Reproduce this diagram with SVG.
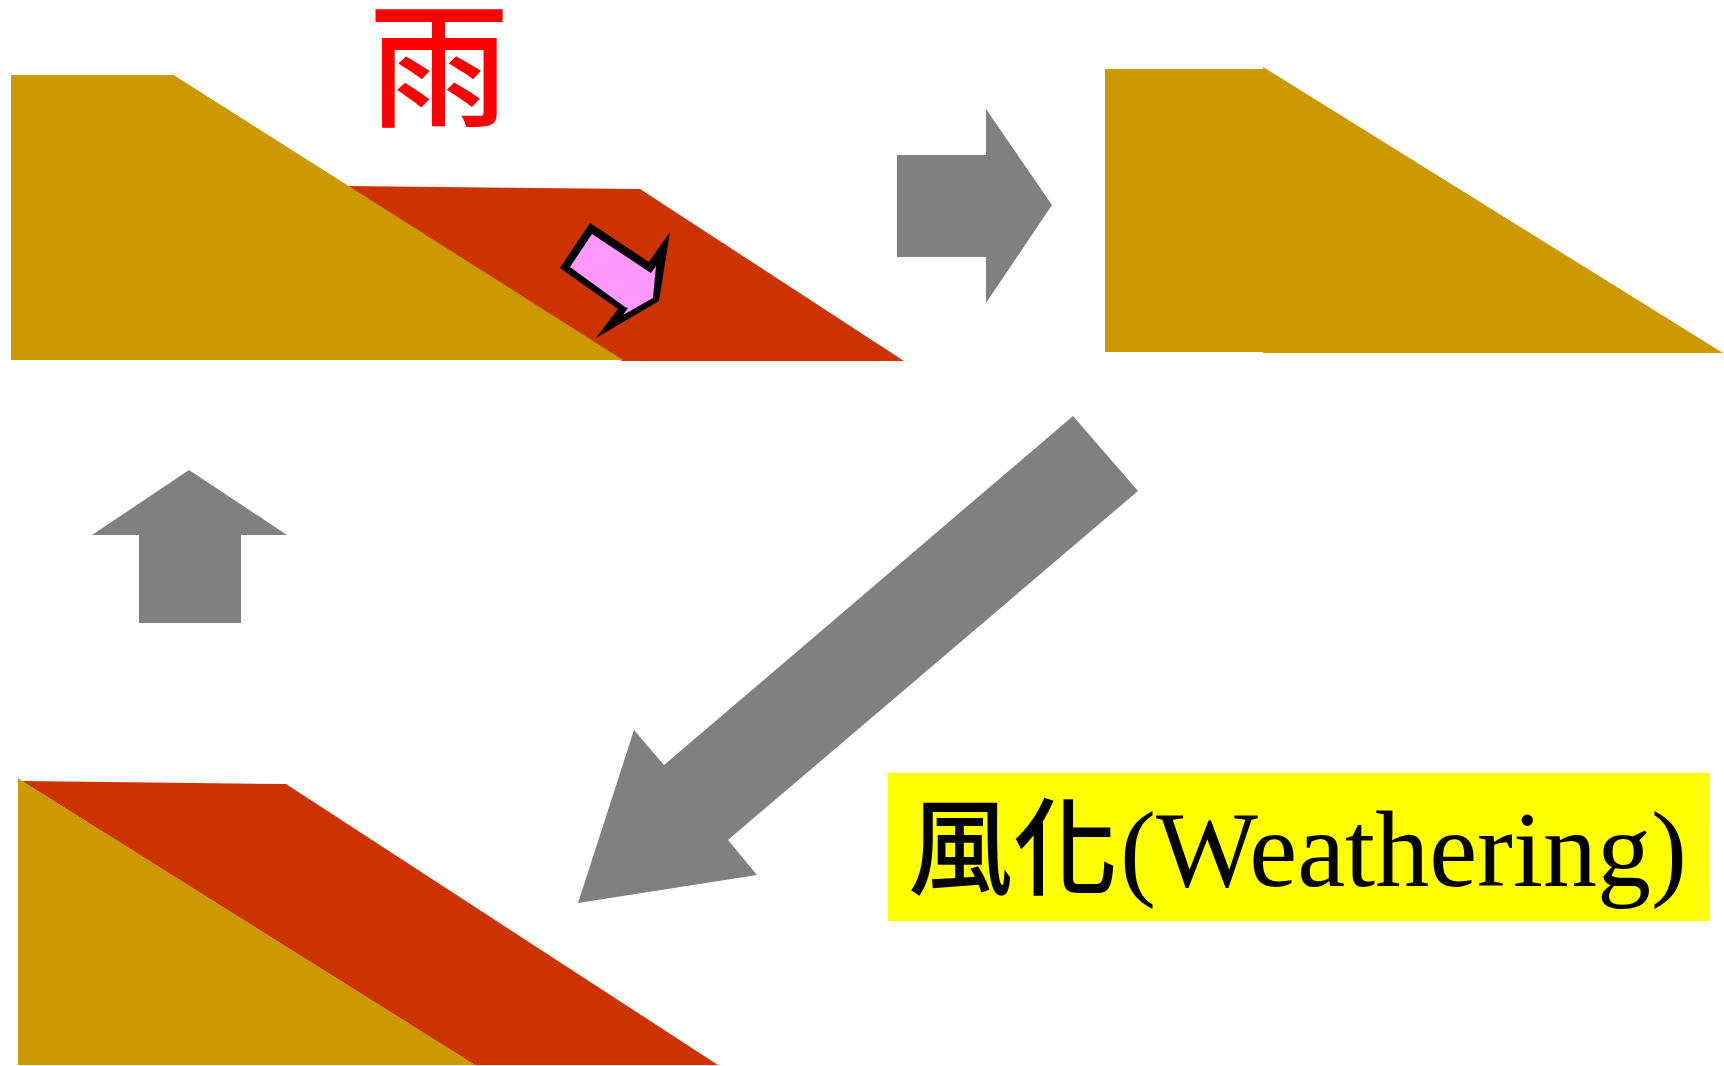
<svg xmlns="http://www.w3.org/2000/svg" width="1724" height="1066" viewBox="0 0 1724 1066">
  <style>
    .soil { fill: #CC9900; }
    .layer { fill: #CC3300; }
    .flow { fill: #808080; }
    .rain { fill: #FF0000; font-family: "Noto Sans CJK JP", "Noto Sans CJK TC", sans-serif; font-size: 135px; font-weight: 500; }
    .caption { fill: #000000; }
    .caption-cjk { font-family: "Noto Sans CJK TC", "Noto Sans CJK JP", sans-serif; font-size: 105px; font-weight: 500; }
    .caption-latin { font-family: "Liberation Serif", "Times New Roman", serif; font-size: 108px; }
  </style>
  <rect width="1724" height="1066" fill="#FFFFFF"/>

  <!-- slope with surface layer and slip arrow -->
  <g id="slope-before">
    <polygon class="layer" points="342,186 640,189 904,361 622,361"/>
    <rect class="soil" x="11" y="75" width="162" height="285"/>
    <polygon class="soil" points="172,74 623,360 172,360"/>
    <polygon fill="#000000" points="590,223 649,262 670,232 659,301 596,338 618,309 560,268"/>
    <polygon fill="#FF99FF" points="592,234 651,273 656,266 653,298 623,315 628,308 625,307 570,267"/>
  </g>

  <!-- rain label -->
  <g id="label-rain">
    <text class="rain" x="439" y="116" text-anchor="middle" transform="translate(439,0) scale(1.045,1) translate(-439,0)">雨</text>
  </g>

  <!-- bare slope after the layer slides off -->
  <g id="slope-after">
    <rect class="soil" x="1105" y="69" width="159" height="283"/>
    <polygon class="soil" points="1263,67 1723,353 1263,353"/>
  </g>

  <!-- regrown layer on the slope -->
  <g id="slope-regrown">
    <polygon class="soil" points="18,778 22,781 475,1065 18,1065"/>
    <polygon class="layer" points="22,781 286,784 718,1065 475,1065"/>
  </g>

  <!-- weathering caption -->
  <g id="label-weathering">
    <rect x="888" y="773" width="821" height="148" fill="#FFFF00"/>
    <text class="caption" y="886"><tspan class="caption-cjk" x="908">風化</tspan><tspan class="caption-latin" x="1120">(Weathering)</tspan></text>
  </g>

  <!-- cycle arrows -->
  <g id="connectors">
    <polygon class="flow" points="897,155 986,155 986,109 1052,205 986,303 986,257 897,257"/>
    <polygon class="flow" points="1073,416 1138,491 728,840 757,875 578,903 634,730 664,765"/>
    <polygon class="flow" points="189,470 287,535 241,535 241,623 139,623 139,535 92,535"/>
  </g>
</svg>
